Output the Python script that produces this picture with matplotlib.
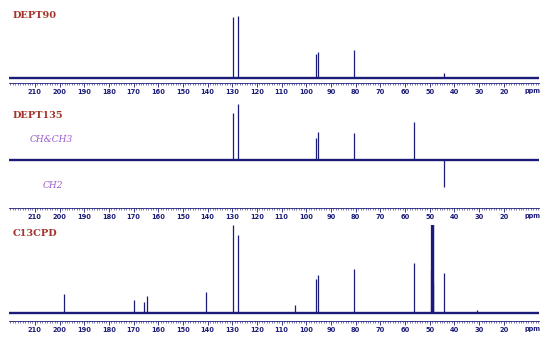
import numpy as np
import matplotlib
matplotlib.use("Agg")
import matplotlib.pyplot as plt
from matplotlib.ticker import MultipleLocator

# peak positions (ppm) and heights (arbitrary)
dept90_ppm = [129.8, 127.6, 96.0, 95.2, 80.7, 44.2]
dept90_h = [61, 62, 24, 26, 28, 5]

dept135_ppm = [129.8, 127.6, 96.0, 95.2, 80.7, 56.3, 44.2]
dept135_h = [47, 56, 22, 28, 27, 38, -27]

cpd_ppm = [198.1, 169.9, 165.7, 164.7, 140.5, 129.8, 127.6, 104.4, 96.0, 95.2,
           80.7, 56.3, 49.45, 49.3, 49.15, 49.0, 48.85, 48.7, 48.55, 44.2, 30.8]
cpd_h = [19, 13, 11, 17, 21, 88, 78, 8, 34, 38,
         44, 50, 43, 95, 95, 95, 95, 95, 30, 40, 3]

tick_vals = list(range(210, 10, -10))
tick_labels = [str(v) for v in tick_vals]

navy = "#1b1b78"
red = "#a3342b"
purple = "#9a5ccf"

W, H = 544, 338
fig = plt.figure(figsize=(W / 100, H / 100), dpi=100)

def make_panel(top, axis_y, base_y, ppm, h, title, title_y):
    ax = fig.add_axes([9 / W, (H - axis_y) / H, 530 / W, (axis_y - top) / H])
    ax.set_xlim(220.5, 5.7)
    ax.set_ylim(-(axis_y - base_y), base_y - top)
    ax.axhline(0, color=navy, lw=1.7)
    ax.vlines(ppm, 0, h, color=navy, lw=0.9)
    for s in ["top", "left", "right"]:
        ax.spines[s].set_visible(False)
    ax.spines["bottom"].set_color(navy)
    ax.spines["bottom"].set_linewidth(0.6)
    ax.set_yticks([])
    ax.set_xticks(tick_vals)
    ax.set_xticklabels(tick_labels)
    ax.xaxis.set_minor_locator(MultipleLocator(1))
    ax.tick_params(axis="x", which="major", direction="out", length=3, width=0.6,
                   color=navy, labelcolor=navy, labelsize=4.8, pad=1.5)
    ax.tick_params(axis="x", which="minor", direction="out", length=1.5, width=0.4,
                   color=navy)
    for lab in ax.get_xticklabels():
        lab.set_fontweight("bold")
    ax.annotate("ppm", xy=(8.5, 0), xycoords=ax.get_xaxis_transform(),
                xytext=(0, -3.6), textcoords="offset points",
                fontsize=4.8, fontweight="bold", color=navy, ha="center", va="top")
    fig.text(13 / W, 1 - title_y / H, title, fontsize=7, fontweight="bold",
             family="DejaVu Serif", color=red, va="center", ha="left")
    return ax

ax1 = make_panel(10, 83, 78, dept90_ppm, dept90_h, "DEPT90", 15)
ax2 = make_panel(100, 207.7, 160, dept135_ppm, dept135_h, "DEPT135", 115)
ax3 = make_panel(225, 321, 312.7, cpd_ppm, cpd_h, "C13CPD", 233)

fig.text(30 / W, 1 - 140 / H, "CH&CH3", fontsize=6.5, style="italic",
         family="DejaVu Serif", color=purple, va="center", ha="left")
fig.text(43 / W, 1 - 185 / H, "CH2", fontsize=6.5, style="italic",
         family="DejaVu Serif", color=purple, va="center", ha="left")

fig.savefig("out.png", dpi=100, facecolor="white")
